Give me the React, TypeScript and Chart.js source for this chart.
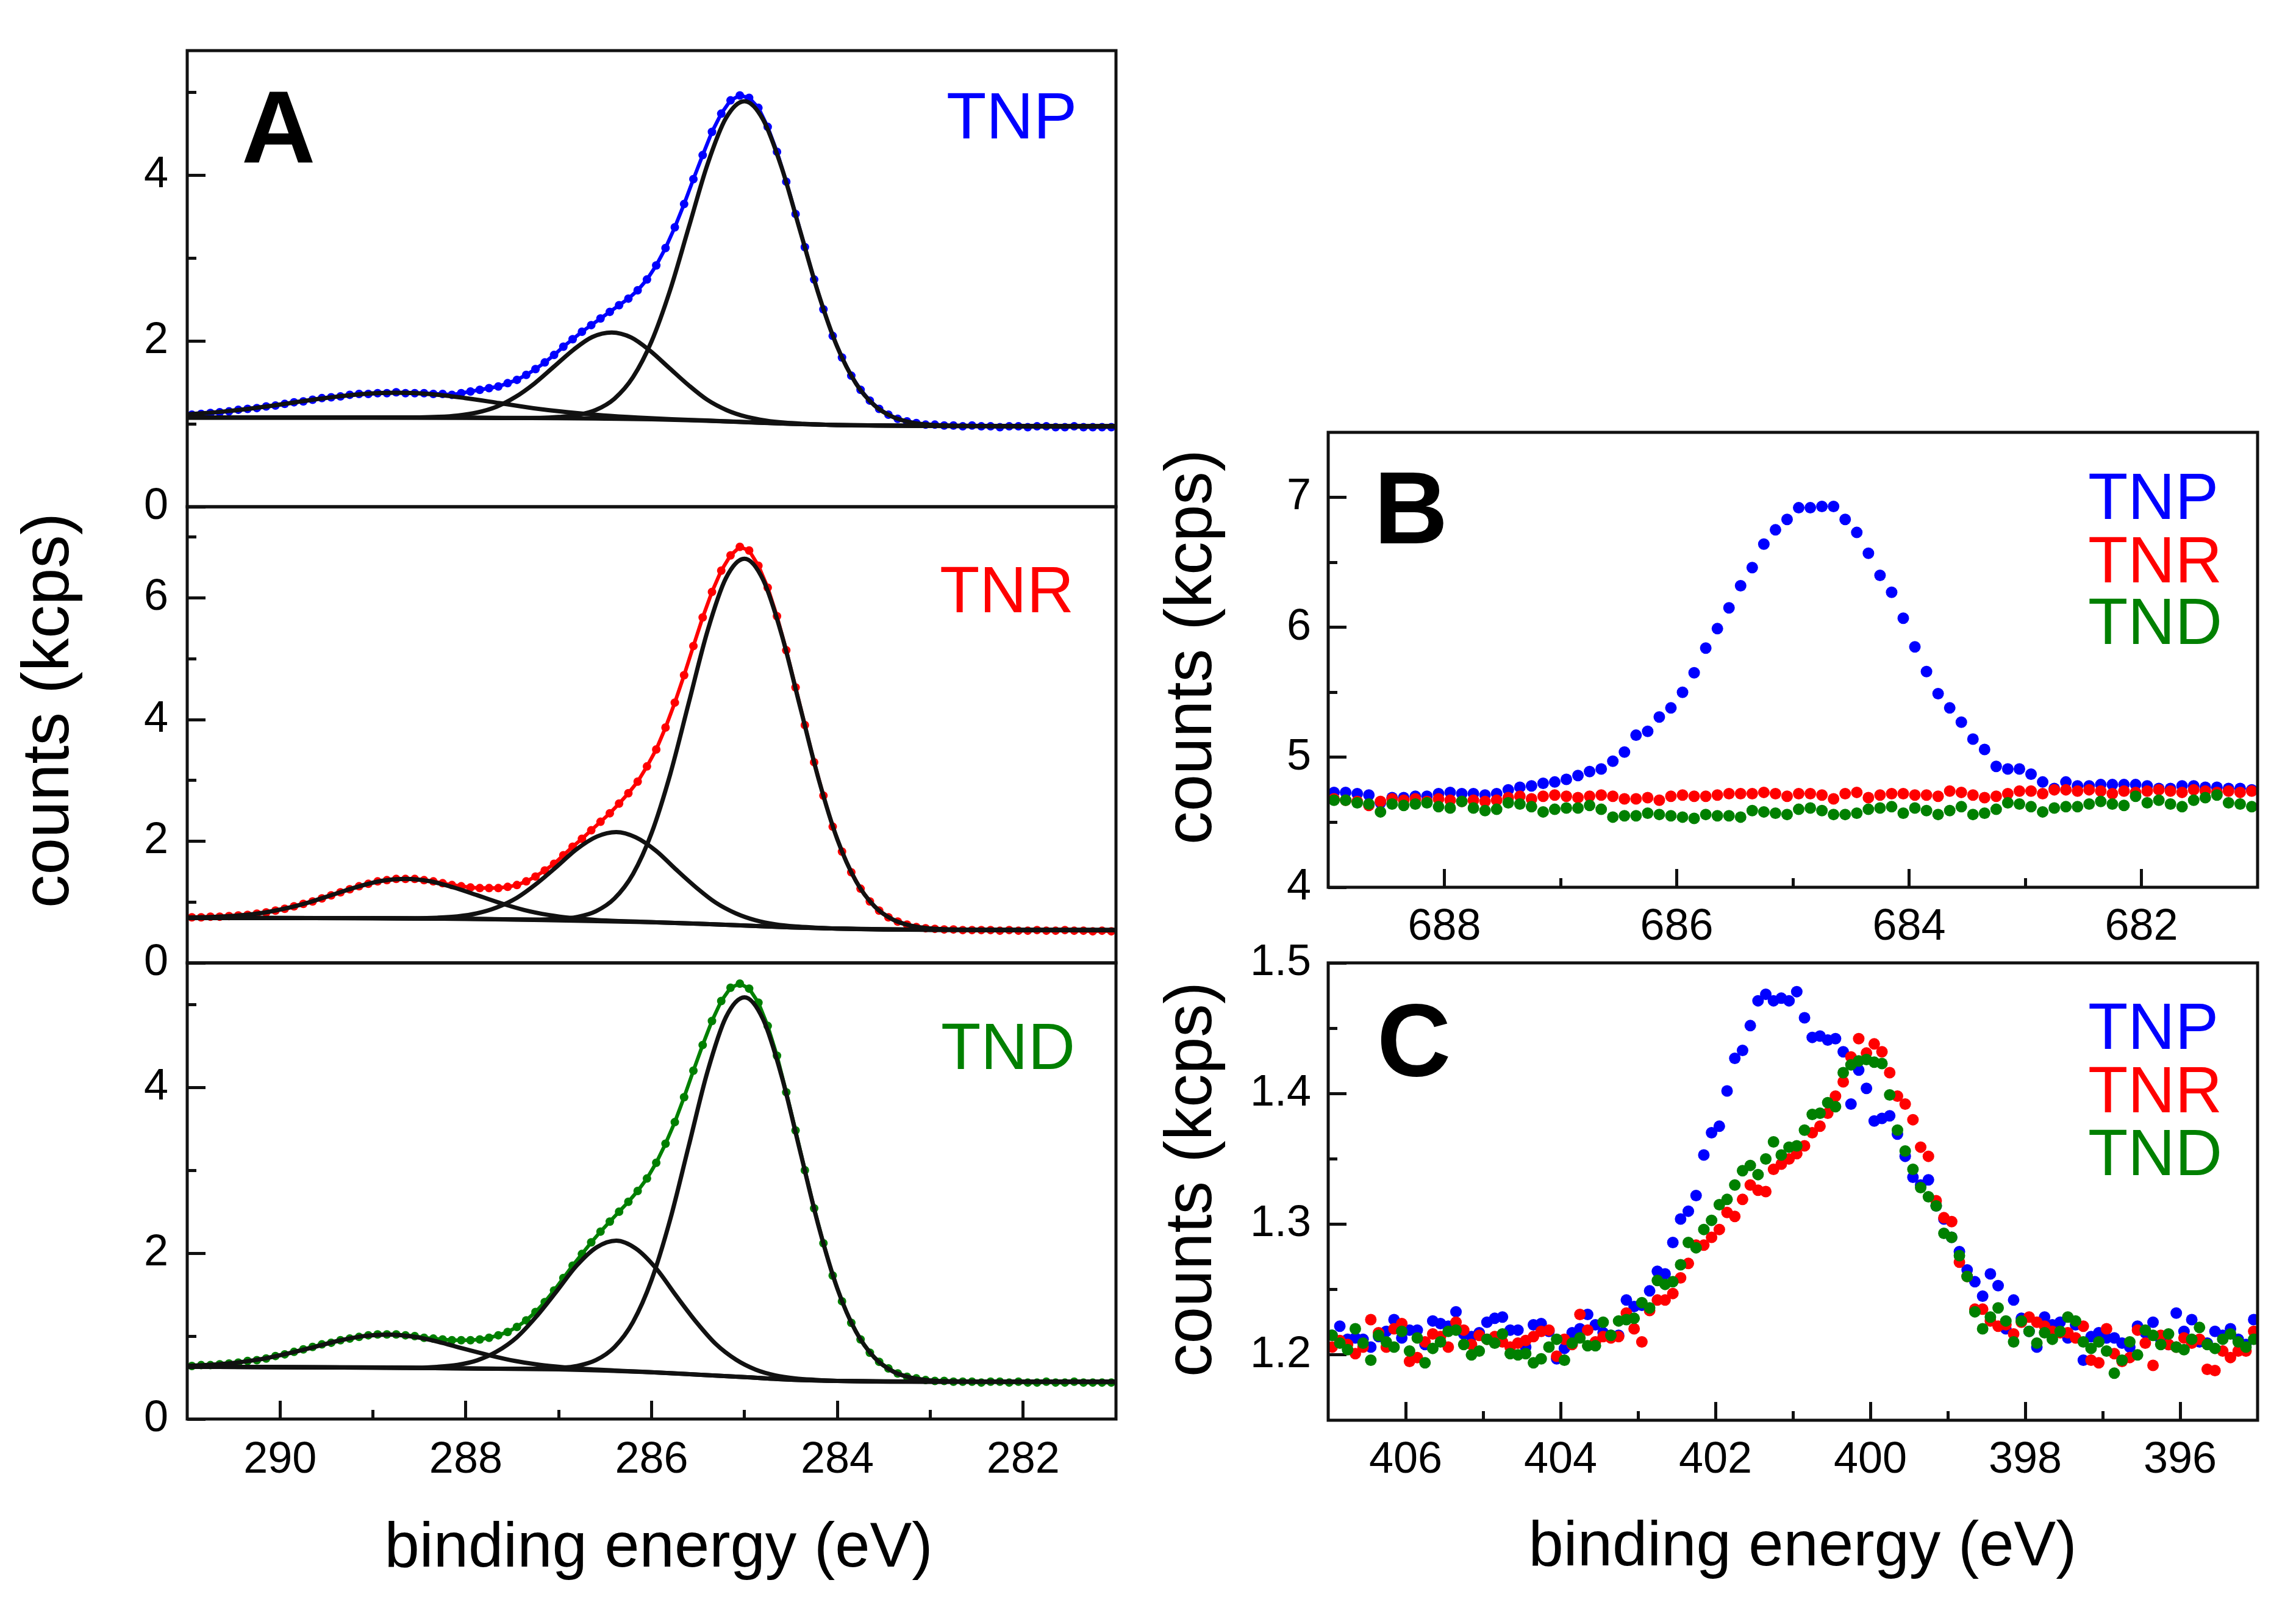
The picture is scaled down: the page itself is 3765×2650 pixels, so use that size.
import React, { useEffect, useRef } from 'react';
import { Chart, registerables } from 'chart.js';
Chart.register(...registerables);

const FONT = '"Liberation Sans", Arial, Helvetica, sans-serif';
const BLUE = '#0000ff';
const RED = '#ff0000';
const GREEN = '#008000';
const INK = '#111111';

// ---------------- Panel A (C 1s) ----------------
const A_ENERGY = [
  290.95, 290.85, 290.75, 290.65, 290.55, 290.45, 290.35, 290.25, 290.15, 290.05,
  289.95, 289.85, 289.75, 289.65, 289.55, 289.45, 289.35, 289.25, 289.15, 289.05,
  288.95, 288.85, 288.75, 288.65, 288.55, 288.45, 288.35, 288.25, 288.15, 288.05,
  287.95, 287.85, 287.75, 287.65, 287.55, 287.45, 287.35, 287.25, 287.15, 287.05,
  286.95, 286.85, 286.75, 286.65, 286.55, 286.45, 286.35, 286.25, 286.15, 286.05,
  285.95, 285.85, 285.75, 285.65, 285.55, 285.45, 285.35, 285.25, 285.15, 285.05,
  284.95, 284.85, 284.75, 284.65, 284.55, 284.45, 284.35, 284.25, 284.15, 284.05,
  283.95, 283.85, 283.75, 283.65, 283.55, 283.45, 283.35, 283.25, 283.15, 283.05,
  282.95, 282.85, 282.75, 282.65, 282.55, 282.45, 282.35, 282.25, 282.15, 282.05,
  281.95, 281.85, 281.75, 281.65, 281.55, 281.45, 281.35, 281.25, 281.15, 281.05,
];
const A_TNP = [
  1.11, 1.12, 1.13, 1.14, 1.15, 1.17, 1.18, 1.19, 1.21, 1.22,
  1.24, 1.26, 1.27, 1.29, 1.31, 1.32, 1.33, 1.35, 1.36, 1.36,
  1.37, 1.37, 1.38, 1.37, 1.37, 1.37, 1.36, 1.36, 1.35, 1.37,
  1.39, 1.41, 1.43, 1.45, 1.49, 1.53, 1.59, 1.66, 1.74, 1.83,
  1.93, 2.02, 2.11, 2.19, 2.27, 2.35, 2.43, 2.51, 2.61, 2.74,
  2.91, 3.12, 3.37, 3.65, 3.95, 4.24, 4.52, 4.74, 4.90, 4.96,
  4.93, 4.81, 4.58, 4.28, 3.92, 3.53, 3.13, 2.74, 2.38, 2.06,
  1.80, 1.58, 1.41, 1.28, 1.18, 1.11, 1.06, 1.03, 1.01, 0.99,
  0.99, 0.98, 0.98, 0.97, 0.98, 0.97, 0.97, 0.96, 0.97, 0.97,
  0.96, 0.97, 0.97, 0.96, 0.96, 0.97, 0.96, 0.96, 0.96, 0.96,
];
const A_TNR = [
  0.75, 0.75, 0.76, 0.76, 0.77, 0.78, 0.79, 0.81, 0.83, 0.86,
  0.89, 0.93, 0.97, 1.01, 1.06, 1.11, 1.16, 1.21, 1.26, 1.30,
  1.34, 1.36, 1.38, 1.38, 1.38, 1.36, 1.34, 1.31, 1.28, 1.26,
  1.24, 1.23, 1.23, 1.23, 1.25, 1.28, 1.34, 1.42, 1.52, 1.63,
  1.77, 1.91, 2.04, 2.18, 2.32, 2.46, 2.62, 2.79, 2.98, 3.23,
  3.51, 3.87, 4.28, 4.73, 5.21, 5.68, 6.10, 6.45, 6.70, 6.84,
  6.78, 6.53, 6.17, 5.70, 5.14, 4.53, 3.91, 3.30, 2.75, 2.24,
  1.83, 1.49, 1.22, 1.01, 0.86, 0.75, 0.68, 0.63, 0.59, 0.57,
  0.56, 0.55, 0.55, 0.54, 0.54, 0.54, 0.54, 0.53, 0.54, 0.53,
  0.53, 0.54, 0.53, 0.53, 0.54, 0.53, 0.53, 0.52, 0.53, 0.52,
];
const A_TND = [
  0.64, 0.65, 0.65, 0.66, 0.67, 0.68, 0.70, 0.71, 0.73, 0.76,
  0.78, 0.81, 0.84, 0.87, 0.90, 0.92, 0.95, 0.97, 0.99, 1.01,
  1.02, 1.02, 1.02, 1.01, 1.00, 0.98, 0.97, 0.96, 0.95, 0.95,
  0.95, 0.96, 0.98, 1.01, 1.05, 1.11, 1.19, 1.29, 1.41, 1.55,
  1.70, 1.85, 1.99, 2.13, 2.26, 2.38, 2.50, 2.62, 2.75, 2.90,
  3.09, 3.32, 3.58, 3.88, 4.20, 4.51, 4.80, 5.04, 5.20, 5.25,
  5.19, 5.02, 4.74, 4.38, 3.94, 3.48, 3.00, 2.54, 2.12, 1.73,
  1.42, 1.16, 0.96, 0.80, 0.69, 0.61, 0.55, 0.51, 0.49, 0.47,
  0.46, 0.46, 0.45, 0.45, 0.45, 0.44, 0.45, 0.45, 0.44, 0.45,
  0.44, 0.44, 0.45, 0.44, 0.44, 0.45, 0.44, 0.44, 0.44, 0.44,
];

// fit components (background and peaks)
const BG_X = [291, 289, 288, 287, 286.5, 286, 285.5, 285, 284.5, 284, 283.5, 283, 282, 281];
const TNP_BG = [1.075, 1.075, 1.073, 1.068, 1.062, 1.055, 1.04, 1.02, 1.0, 0.985, 0.98, 0.975, 0.972, 0.97];
const TNR_BG = [0.74, 0.735, 0.725, 0.70, 0.685, 0.67, 0.645, 0.615, 0.585, 0.565, 0.55, 0.545, 0.54, 0.54];
const TND_BG = [0.63, 0.62, 0.61, 0.60, 0.585, 0.565, 0.535, 0.505, 0.475, 0.46, 0.452, 0.45, 0.45, 0.45];

const P1_X = [291, 289, 288, 287.6, 287.2, 287.0, 286.8, 286.6, 286.4, 286.2, 286.0, 285.8, 285.6, 285.4, 285.2, 285.0, 284.8, 284.6, 284.4, 284.2, 284.0, 283.8, 283.6, 283.4, 283.2, 283.0, 282.8, 282, 281];
const TNP_P1 = [1.075, 1.075, 1.073, 1.070, 1.072, 1.082, 1.105, 1.167, 1.303, 1.563, 1.995, 2.614, 3.369, 4.123, 4.685, 4.89, 4.669, 4.09, 3.323, 2.556, 1.925, 1.487, 1.222, 1.082, 1.016, 0.989, 0.979, 0.972, 0.97];
const TNR_P1 = [0.74, 0.735, 0.725, 0.717, 0.713, 0.721, 0.756, 0.849, 1.059, 1.462, 2.135, 3.099, 4.274, 5.448, 6.325, 6.645, 6.301, 5.400, 4.205, 3.012, 2.030, 1.345, 0.930, 0.710, 0.609, 0.566, 0.551, 0.54, 0.54];
const TND_P1 = [0.63, 0.62, 0.61, 0.606, 0.607, 0.616, 0.641, 0.710, 0.867, 1.170, 1.678, 2.405, 3.294, 4.182, 4.845, 5.085, 4.821, 4.134, 3.225, 2.318, 1.573, 1.054, 0.740, 0.573, 0.497, 0.466, 0.455, 0.45, 0.45];

const TNP_P2_X = [291, 289.5, 288.50, 288.29, 288.09, 287.88, 287.67, 287.47, 287.26, 287.05, 286.84, 286.64, 286.43, 286.22, 286.02, 285.81, 285.60, 285.40, 285.19, 284.98, 284.77, 284.57, 284.36, 284.0, 283.0, 281];
const TNP_P2 = [1.075, 1.075, 1.078, 1.084, 1.100, 1.136, 1.206, 1.321, 1.488, 1.691, 1.894, 2.046, 2.101, 2.041, 1.884, 1.674, 1.464, 1.289, 1.164, 1.085, 1.039, 1.014, 1.000, 0.985, 0.975, 0.97];
const P2_X = [291, 289.5, 288.52, 288.31, 288.09, 287.88, 287.67, 287.45, 287.24, 287.02, 286.81, 286.59, 286.38, 286.17, 285.95, 285.74, 285.52, 285.31, 285.09, 284.88, 284.67, 284.45, 284.24, 284.0, 283.0, 281];
const TNR_P2 = [0.74, 0.737, 0.735, 0.743, 0.765, 0.815, 0.910, 1.071, 1.301, 1.584, 1.866, 2.077, 2.151, 2.064, 1.840, 1.540, 1.240, 0.991, 0.812, 0.700, 0.634, 0.598, 0.580, 0.565, 0.545, 0.54];
const TND_P2 = [0.63, 0.625, 0.620, 0.629, 0.653, 0.707, 0.812, 0.987, 1.237, 1.544, 1.846, 2.072, 2.151, 2.056, 1.814, 1.493, 1.171, 0.906, 0.715, 0.596, 0.527, 0.490, 0.473, 0.46, 0.45, 0.45];

const TNP_P3_X = [291.0, 290.61, 290.23, 289.86, 289.49, 289.12, 288.75, 288.38, 288.01, 287.64, 287.27, 286.90, 286.52, 286.15, 285.78, 285.41, 285.04, 284.5, 284.0, 283.0, 281];
const TNP_P3 = [1.114, 1.148, 1.196, 1.255, 1.314, 1.359, 1.375, 1.358, 1.311, 1.250, 1.188, 1.139, 1.101, 1.075, 1.056, 1.040, 1.023, 1.0, 0.985, 0.975, 0.97];
const TNR_P3_X = [291.0, 290.71, 290.45, 290.19, 289.94, 289.68, 289.42, 289.16, 288.91, 288.65, 288.39, 288.14, 287.88, 287.62, 287.37, 287.11, 286.85, 286.59, 286.34, 286.08, 285.5, 285.0, 284.5, 284.0, 283.0, 281];
const TNR_P3 = [0.747, 0.757, 0.780, 0.823, 0.896, 1.000, 1.128, 1.254, 1.348, 1.381, 1.343, 1.244, 1.114, 0.980, 0.869, 0.788, 0.736, 0.705, 0.687, 0.674, 0.645, 0.615, 0.585, 0.565, 0.545, 0.54];
const TND_P3_X = [291.0, 290.74, 290.47, 290.20, 289.93, 289.65, 289.38, 289.11, 288.84, 288.57, 288.30, 288.03, 287.75, 287.48, 287.21, 286.94, 286.67, 286.40, 286.13, 285.5, 285.0, 284.5, 284.0, 283.0, 281];
const TND_P3 = [0.641, 0.654, 0.680, 0.723, 0.787, 0.863, 0.941, 0.999, 1.019, 0.994, 0.932, 0.850, 0.770, 0.702, 0.654, 0.623, 0.601, 0.585, 0.571, 0.535, 0.505, 0.475, 0.46, 0.45, 0.45];

const A_X_MAJOR = [290, 288, 286, 284, 282];
const A_X_LABELS = ['290', '288', '286', '284', '282'];
const A_X_MINOR = [289, 287, 285, 283];
const A_Y_MAJOR_5 = [0, 2, 4];
const A_Y_LABELS_5 = ['0', '2', '4'];
const A_Y_MINOR_5 = [1, 3, 5];
const A_Y_MAJOR_7 = [0, 2, 4, 6];
const A_Y_LABELS_7 = ['0', '2', '4', '6'];
const A_Y_MINOR_7 = [1, 3, 5, 7];

// ---------------- Panel B (F 1s) ----------------
const B_ENERGY = [
  688.95, 688.85, 688.75, 688.65, 688.55, 688.45, 688.35, 688.25, 688.15, 688.05,
  687.95, 687.85, 687.75, 687.65, 687.55, 687.45, 687.35, 687.25, 687.15, 687.05,
  686.95, 686.85, 686.75, 686.65, 686.55, 686.45, 686.35, 686.25, 686.15, 686.05,
  685.95, 685.85, 685.75, 685.65, 685.55, 685.45, 685.35, 685.25, 685.15, 685.05,
  684.95, 684.85, 684.75, 684.65, 684.55, 684.45, 684.35, 684.25, 684.15, 684.05,
  683.95, 683.85, 683.75, 683.65, 683.55, 683.45, 683.35, 683.25, 683.15, 683.05,
  682.95, 682.85, 682.75, 682.65, 682.55, 682.45, 682.35, 682.25, 682.15, 682.05,
  681.95, 681.85, 681.75, 681.65, 681.55, 681.45, 681.35, 681.25, 681.15, 681.05,
];
const B_TNP = [
  4.73, 4.73, 4.72, 4.71, 4.65, 4.69, 4.69, 4.70, 4.70, 4.72,
  4.73, 4.72, 4.72, 4.71, 4.72, 4.75, 4.77, 4.78, 4.80, 4.81,
  4.83, 4.86, 4.89, 4.91, 4.97, 5.04, 5.17, 5.20, 5.31, 5.38,
  5.50, 5.65, 5.84, 5.99, 6.15, 6.32, 6.46, 6.64, 6.75, 6.83,
  6.92, 6.92, 6.93, 6.93, 6.83, 6.73, 6.57, 6.40, 6.27, 6.07,
  5.85, 5.66, 5.49, 5.38, 5.27, 5.14, 5.06, 4.93, 4.91, 4.91,
  4.87, 4.81, 4.76, 4.81, 4.78, 4.78, 4.79, 4.79, 4.79, 4.79,
  4.78, 4.76, 4.76, 4.78, 4.78, 4.77, 4.77, 4.76, 4.76, 4.75,
];
const B_TNR = [
  4.68, 4.67, 4.66, 4.63, 4.66, 4.68, 4.67, 4.68, 4.66, 4.68,
  4.67, 4.66, 4.67, 4.66, 4.67, 4.69, 4.70, 4.68, 4.70, 4.71,
  4.70, 4.69, 4.70, 4.71, 4.70, 4.68, 4.68, 4.69, 4.67, 4.70,
  4.71, 4.70, 4.70, 4.71, 4.72, 4.72, 4.72, 4.73, 4.72, 4.70,
  4.72, 4.72, 4.71, 4.68, 4.72, 4.73, 4.69, 4.71, 4.72, 4.72,
  4.71, 4.71, 4.70, 4.74, 4.73, 4.71, 4.69, 4.70, 4.72, 4.74,
  4.74, 4.72, 4.75, 4.75, 4.74, 4.75, 4.74, 4.72, 4.74, 4.73,
  4.74, 4.75, 4.74, 4.73, 4.75, 4.74, 4.73, 4.74, 4.73, 4.74,
];
const B_TND = [
  4.67, 4.67, 4.65, 4.64, 4.58, 4.64, 4.63, 4.64, 4.65, 4.62,
  4.61, 4.66, 4.61, 4.59, 4.60, 4.65, 4.64, 4.62, 4.58, 4.60,
  4.61, 4.61, 4.63, 4.60, 4.54, 4.55, 4.55, 4.57, 4.56, 4.55,
  4.54, 4.53, 4.56, 4.55, 4.55, 4.54, 4.59, 4.58, 4.57, 4.56,
  4.60, 4.61, 4.59, 4.56, 4.56, 4.57, 4.60, 4.61, 4.62, 4.57,
  4.61, 4.59, 4.56, 4.59, 4.62, 4.56, 4.57, 4.60, 4.65, 4.64,
  4.62, 4.58, 4.61, 4.62, 4.62, 4.64, 4.66, 4.64, 4.63, 4.70,
  4.65, 4.67, 4.64, 4.62, 4.67, 4.69, 4.71, 4.65, 4.64, 4.62,
];
const B_X_MAJOR = [688, 686, 684, 682];
const B_X_LABELS = ['688', '686', '684', '682'];
const B_X_MINOR = [687, 685, 683];
const B_Y_MAJOR = [4, 5, 6, 7];
const B_Y_LABELS = ['4', '5', '6', '7'];
const B_Y_MINOR = [4.5, 5.5, 6.5];

// ---------------- Panel C (N 1s) ----------------
const C_ENERGY = [
  406.95, 406.85, 406.75, 406.65, 406.55, 406.45, 406.35, 406.25, 406.15, 406.05,
  405.95, 405.85, 405.75, 405.65, 405.55, 405.45, 405.35, 405.25, 405.15, 405.05,
  404.95, 404.85, 404.75, 404.65, 404.55, 404.45, 404.35, 404.25, 404.15, 404.05,
  403.95, 403.85, 403.75, 403.65, 403.55, 403.45, 403.35, 403.25, 403.15, 403.05,
  402.95, 402.85, 402.75, 402.65, 402.55, 402.45, 402.35, 402.25, 402.15, 402.05,
  401.95, 401.85, 401.75, 401.65, 401.55, 401.45, 401.35, 401.25, 401.15, 401.05,
  400.95, 400.85, 400.75, 400.65, 400.55, 400.45, 400.35, 400.25, 400.15, 400.05,
  399.95, 399.85, 399.75, 399.65, 399.55, 399.45, 399.35, 399.25, 399.15, 399.05,
  398.95, 398.85, 398.75, 398.65, 398.55, 398.45, 398.35, 398.25, 398.15, 398.05,
  397.95, 397.85, 397.75, 397.65, 397.55, 397.45, 397.35, 397.25, 397.15, 397.05,
  396.95, 396.85, 396.75, 396.65, 396.55, 396.45, 396.35, 396.25, 396.15, 396.05,
  395.95, 395.85, 395.75, 395.65, 395.55, 395.45, 395.35, 395.25, 395.15, 395.05,
];
const C_TNP = [
  1.215, 1.222, 1.212, 1.213, 1.212, 1.206, 1.214, 1.218, 1.227, 1.213,
  1.219, 1.219, 1.208, 1.226, 1.224, 1.222, 1.233, 1.216, 1.214, 1.217,
  1.225, 1.228, 1.229, 1.219, 1.219, 1.206, 1.223, 1.224, 1.218, 1.197,
  1.205, 1.217, 1.220, 1.231, 1.223, 1.217, 1.215, 1.215, 1.242, 1.237,
  1.238, 1.249, 1.264, 1.262, 1.286, 1.304, 1.310, 1.322, 1.353, 1.370,
  1.375, 1.402, 1.427, 1.433, 1.452, 1.471, 1.476, 1.471, 1.473, 1.471,
  1.478, 1.458, 1.443, 1.444, 1.441, 1.442, 1.432, 1.392, 1.418, 1.404,
  1.379, 1.381, 1.383, 1.369, 1.352, 1.336, 1.330, 1.334, 1.314, 1.304,
  1.290, 1.279, 1.265, 1.256, 1.245, 1.262, 1.253, 1.220, 1.242, 1.228,
  1.218, 1.206, 1.229, 1.223, 1.225, 1.213, 1.223, 1.196, 1.214, 1.217,
  1.213, 1.213, 1.209, 1.206, 1.222, 1.217, 1.225, 1.212, 1.208, 1.232,
  1.218, 1.227, 1.210, 1.209, 1.218, 1.215, 1.220, 1.212, 1.208, 1.227,
];
const C_TNR = [
  1.206, 1.211, 1.208, 1.201, 1.206, 1.227, 1.217, 1.206, 1.220, 1.224,
  1.195, 1.198, 1.210, 1.216, 1.214, 1.206, 1.225, 1.219, 1.208, 1.215,
  1.212, 1.214, 1.210, 1.206, 1.209, 1.211, 1.214, 1.218, 1.219, 1.199,
  1.212, 1.208, 1.231, 1.219, 1.210, 1.214, 1.213, 1.214, 1.232, 1.220,
  1.210, 1.234, 1.242, 1.242, 1.247, 1.259, 1.270, 1.284, 1.284, 1.290,
  1.296, 1.309, 1.306, 1.319, 1.330, 1.326, 1.325, 1.342, 1.346, 1.350,
  1.354, 1.360, 1.370, 1.375, 1.385, 1.398, 1.409, 1.428, 1.442, 1.431,
  1.438, 1.432, 1.416, 1.398, 1.392, 1.380, 1.359, 1.352, 1.318, 1.305,
  1.302, 1.271, 1.260, 1.235, 1.235, 1.226, 1.222, 1.223, 1.216, 1.225,
  1.229, 1.225, 1.222, 1.218, 1.217, 1.217, 1.213, 1.222, 1.196, 1.194,
  1.220, 1.201, 1.195, 1.198, 1.219, 1.209, 1.192, 1.215, 1.208, 1.206,
  1.213, 1.209, 1.212, 1.189, 1.188, 1.203, 1.198, 1.203, 1.203, 1.218,
];
const C_TND = [
  1.215, 1.209, 1.204, 1.220, 1.209, 1.196, 1.215, 1.210, 1.206, 1.218,
  1.203, 1.213, 1.194, 1.205, 1.210, 1.218, 1.219, 1.208, 1.200, 1.203,
  1.212, 1.209, 1.216, 1.201, 1.200, 1.201, 1.194, 1.197, 1.206, 1.212,
  1.196, 1.209, 1.213, 1.207, 1.207, 1.225, 1.215, 1.226, 1.227, 1.228,
  1.240, 1.236, 1.257, 1.254, 1.256, 1.269, 1.286, 1.282, 1.296, 1.303,
  1.315, 1.319, 1.330, 1.341, 1.345, 1.338, 1.350, 1.363, 1.353, 1.359,
  1.360, 1.372, 1.384, 1.385, 1.393, 1.390, 1.416, 1.422, 1.425, 1.426,
  1.424, 1.423, 1.399, 1.372, 1.356, 1.342, 1.328, 1.321, 1.314, 1.293,
  1.290, 1.276, 1.260, 1.233, 1.220, 1.229, 1.236, 1.226, 1.210, 1.226,
  1.218, 1.209, 1.217, 1.212, 1.218, 1.229, 1.226, 1.210, 1.205, 1.210,
  1.203, 1.186, 1.196, 1.210, 1.200, 1.219, 1.215, 1.208, 1.216, 1.206,
  1.204, 1.212, 1.221, 1.208, 1.205, 1.212, 1.216, 1.210, 1.206, 1.212,
];
const C_X_MAJOR = [406, 404, 402, 400, 398, 396];
const C_X_LABELS = ['406', '404', '402', '400', '398', '396'];
const C_X_MINOR = [405, 403, 401, 399, 397];
const C_Y_MAJOR = [1.2, 1.3, 1.4, 1.5];
const C_Y_LABELS = ['1.2', '1.3', '1.4', '1.5'];
const C_Y_MINOR = [1.25, 1.35, 1.45];

const SAMPLE_NAMES = ['TNP', 'TNR', 'TND'];
const Y_TITLE = 'counts (kcps)';
const X_TITLE = 'binding energy (eV)';

// ---------------- helpers ----------------
type TextItem = { text: string; x: number; y: number; size: number; color: string; bold?: boolean; rotate?: boolean; align?: CanvasTextAlign };

const framePlugin = {
  id: 'frame',
  afterDatasetsDraw(chart: any) {
    const { ctx, chartArea: a } = chart;
    ctx.save();
    ctx.strokeStyle = INK;
    ctx.lineWidth = 5;
    ctx.strokeRect(a.left, a.top, a.right - a.left, a.bottom - a.top);
    ctx.restore();
  },
};

function makeTextPlugin(items: TextItem[]) {
  return {
    id: 'texts',
    afterDraw(chart: any) {
      const ctx = chart.ctx;
      items.forEach((t) => {
        ctx.save();
        ctx.font = `${t.bold ? 'bold ' : ''}${t.size}px ${FONT}`;
        ctx.fillStyle = t.color;
        ctx.textAlign = t.align || 'left';
        ctx.textBaseline = 'alphabetic';
        ctx.translate(t.x, t.y);
        if (t.rotate) ctx.rotate(-Math.PI / 2);
        ctx.fillText(t.text, 0, 0);
        ctx.restore();
      });
    },
  };
}

type AxisSpec = { min: number; max: number; major: number[]; labels: string[]; minor: number[]; size: number; pad: number; show: boolean; reverse?: boolean };

function axisPair(dir: 'x' | 'y', s: AxisSpec) {
  const position = dir === 'x' ? 'bottom' : 'left';
  const setSize = (sc: any, v: number) => {
    if (dir === 'x') sc.height = v;
    else sc.width = v;
    // keep the plot area exactly where the layout puts it
    sc.paddingTop = 0;
    sc.paddingBottom = 0;
    sc.paddingLeft = 0;
    sc.paddingRight = 0;
  };
  const common = { type: 'linear', position, min: s.min, max: s.max, reverse: !!s.reverse, display: s.show, border: { display: false } };
  return {
    [dir]: {
      ...common,
      weight: 10,
      afterBuildTicks: (sc: any) => { sc.ticks = s.major.map((v) => ({ value: v })); },
      afterFit: (sc: any) => setSize(sc, s.size),
      ticks: {
        autoSkip: false, maxRotation: 0, minRotation: 0, padding: s.pad, color: '#000',
        font: { family: FONT, size: 72 },
        callback: (_v: any, i: number) => s.labels[i],
      },
      grid: { drawOnChartArea: false, drawTicks: true, tickLength: -30, tickWidth: 5, tickColor: INK, lineWidth: 5, color: INK },
    },
    [dir + '2']: {
      ...common,
      weight: 0,
      afterBuildTicks: (sc: any) => { sc.ticks = s.minor.map((v) => ({ value: v })); },
      afterFit: (sc: any) => setSize(sc, 0),
      ticks: { display: false },
      grid: { drawOnChartArea: false, drawTicks: true, tickLength: -15, tickWidth: 5, tickColor: INK, lineWidth: 5, color: INK },
    },
  };
}

const pts = (xs: number[], ys: number[]) => xs.map((x, i) => ({ x, y: ys[i] }));

function baseOptions(padding: any, scales: any) {
  return {
    responsive: false,
    maintainAspectRatio: false,
    animation: false,
    devicePixelRatio: 1,
    events: [],
    layout: { padding },
    plugins: { legend: { display: false }, tooltip: { enabled: false }, title: { display: false } },
    scales,
  };
}

type ASpec = {
  pad: any; xSize: number; showX: boolean; yMax: number; yMajor: number[]; yLabels: string[]; yMinor: number[];
  data: number[]; color: string; comps: [number[], number[]][]; texts: TextItem[];
};

function aConfig(p: ASpec) {
  const datasets: any[] = p.comps.map(([xs, ys]) => ({
    data: pts(xs, ys), borderColor: INK, borderWidth: 7, pointRadius: 0, cubicInterpolationMode: 'monotone', fill: false, order: 0,
  }));
  datasets.push({
    data: pts(A_ENERGY, p.data), borderColor: p.color, backgroundColor: p.color, borderWidth: 6,
    pointRadius: 7, pointBackgroundColor: p.color, pointBorderWidth: 0, fill: false, order: 1,
  });
  return {
    type: 'line',
    data: { datasets },
    options: baseOptions(p.pad, {
      ...axisPair('x', { min: 281, max: 291, reverse: true, major: A_X_MAJOR, labels: A_X_LABELS, minor: A_X_MINOR, size: p.xSize, pad: 55, show: p.showX }),
      ...axisPair('y', { min: 0, max: p.yMax, major: p.yMajor, labels: p.yLabels, minor: p.yMinor, size: 307, pad: 61, show: true }),
    }),
    plugins: [framePlugin, makeTextPlugin(p.texts)],
  };
}

type SSpec = {
  pad: any; xSize: number; xMin: number; xMax: number; xMajor: number[]; xLabels: string[]; xMinor: number[];
  yMin: number; yMax: number; yMajor: number[]; yLabels: string[]; yMinor: number[];
  energy: number[]; series: number[][]; texts: TextItem[];
};

function sConfig(p: SSpec) {
  const colors = [BLUE, RED, GREEN];
  const orders = [2, 1, 0];
  const datasets = p.series.map((ys, i) => ({
    data: pts(p.energy, ys), showLine: false, borderColor: colors[i], backgroundColor: colors[i],
    pointRadius: 9.5, pointBackgroundColor: colors[i], pointBorderWidth: 0, order: orders[i],
  }));
  return {
    type: 'line',
    data: { datasets },
    options: baseOptions(p.pad, {
      ...axisPair('x', { min: p.xMin, max: p.xMax, reverse: true, major: p.xMajor, labels: p.xLabels, minor: p.xMinor, size: p.xSize, pad: 53, show: true }),
      ...axisPair('y', { min: p.yMin, max: p.yMax, major: p.yMajor, labels: p.yLabels, minor: p.yMinor, size: 278, pad: 58, show: true }),
    }),
    plugins: [framePlugin, makeTextPlugin(p.texts)],
  };
}

function legendTexts(x: number, ys: number[]): TextItem[] {
  const colors = [BLUE, RED, GREEN];
  return SAMPLE_NAMES.map((n, i) => ({ text: n, x, y: ys[i], size: 107, color: colors[i] }));
}

// ---------------- chart definitions ----------------
const CHARTS: { left: number; top: number; width: number; height: number; make: () => any }[] = [
  {
    left: 0, top: 0, width: 1860, height: 900,
    make: () => aConfig({
      pad: { top: 83, right: 30, bottom: 69, left: 0 }, xSize: 0, showX: false,
      yMax: 5.5, yMajor: A_Y_MAJOR_5, yLabels: A_Y_LABELS_5, yMinor: A_Y_MINOR_5,
      data: A_TNP, color: BLUE,
      comps: [[BG_X, TNP_BG], [P1_X, TNP_P1], [TNP_P2_X, TNP_P2], [TNP_P3_X, TNP_P3]],
      texts: [
        { text: 'A', x: 396, y: 267, size: 168, color: '#000', bold: true },
        { text: SAMPLE_NAMES[0], x: 1552, y: 227, size: 107, color: BLUE },
      ],
    }),
  },
  {
    left: 0, top: 760, width: 1860, height: 900,
    make: () => aConfig({
      pad: { top: 71, right: 30, bottom: 81, left: 0 }, xSize: 0, showX: false,
      yMax: 7.5, yMajor: A_Y_MAJOR_7, yLabels: A_Y_LABELS_7, yMinor: A_Y_MINOR_7,
      data: A_TNR, color: RED,
      comps: [[BG_X, TNR_BG], [P1_X, TNR_P1], [P2_X, TNR_P2], [TNR_P3_X, TNR_P3]],
      texts: [
        { text: SAMPLE_NAMES[1], x: 1541, y: 244, size: 107, color: RED },
        { text: Y_TITLE, x: 112, y: 405, size: 109, color: '#000', rotate: true, align: 'center' },
      ],
    }),
  },
  {
    left: 0, top: 1508, width: 1860, height: 1142,
    make: () => aConfig({
      pad: { top: 71, right: 30, bottom: 0, left: 0 }, xSize: 323, showX: true,
      yMax: 5.5, yMajor: A_Y_MAJOR_5, yLabels: A_Y_LABELS_5, yMinor: A_Y_MINOR_5,
      data: A_TND, color: GREEN,
      comps: [[BG_X, TND_BG], [P1_X, TND_P1], [P2_X, TND_P2], [TND_P3_X, TND_P3]],
      texts: [
        { text: SAMPLE_NAMES[2], x: 1543, y: 245, size: 107, color: GREEN },
        { text: X_TITLE, x: 1080, y: 1061, size: 103, color: '#000', align: 'center' },
      ],
    }),
  },
  {
    left: 1900, top: 640, width: 1840, height: 960,
    make: () => sConfig({
      pad: { top: 69, right: 38, bottom: 0, left: 0 }, xSize: 145,
      xMin: 681, xMax: 689, xMajor: B_X_MAJOR, xLabels: B_X_LABELS, xMinor: B_X_MINOR,
      yMin: 4, yMax: 7.5, yMajor: B_Y_MAJOR, yLabels: B_Y_LABELS, yMinor: B_Y_MINOR,
      energy: B_ENERGY, series: [B_TNP, B_TNR, B_TND],
      texts: [
        { text: 'B', x: 353, y: 251, size: 168, color: '#000', bold: true },
        ...legendTexts(1524, [211, 315, 416]),
        { text: Y_TITLE, x: 86, y: 421, size: 109, color: '#000', rotate: true, align: 'center' },
      ],
    }),
  },
  {
    left: 1900, top: 1500, width: 1840, height: 1150,
    make: () => sConfig({
      pad: { top: 79, right: 38, bottom: 0, left: 0 }, xSize: 321,
      xMin: 395, xMax: 407, xMajor: C_X_MAJOR, xLabels: C_X_LABELS, xMinor: C_X_MINOR,
      yMin: 1.15, yMax: 1.5, yMajor: C_Y_MAJOR, yLabels: C_Y_LABELS, yMinor: C_Y_MINOR,
      energy: C_ENERGY, series: [C_TNP, C_TNR, C_TND],
      texts: [
        { text: 'C', x: 358, y: 264, size: 168, color: '#000', bold: true },
        ...legendTexts(1524, [220, 324, 427]),
        { text: Y_TITLE, x: 86, y: 434, size: 109, color: '#000', rotate: true, align: 'center' },
        { text: X_TITLE, x: 1056, y: 1067, size: 103, color: '#000', align: 'center' },
      ],
    }),
  },
];

function ChartCanvas({ left, top, width, height, make }: { left: number; top: number; width: number; height: number; make: () => any }) {
  const ref = useRef<HTMLCanvasElement>(null);
  useEffect(() => {
    if (!ref.current) return;
    const chart = new Chart(ref.current, make());
    return () => chart.destroy();
  }, []);
  return (
    <canvas
      ref={ref}
      width={width}
      height={height}
      style={{ position: 'absolute', left, top, width: `${width}px`, height: `${height}px` }}
    />
  );
}

export default function App() {
  return (
    <div style={{ position: 'absolute', left: 0, top: 0, width: 3765, height: 2650, background: '#fff', overflow: 'hidden' }}>
      {CHARTS.map((c, i) => (
        <ChartCanvas key={i} {...c} />
      ))}
    </div>
  );
}
